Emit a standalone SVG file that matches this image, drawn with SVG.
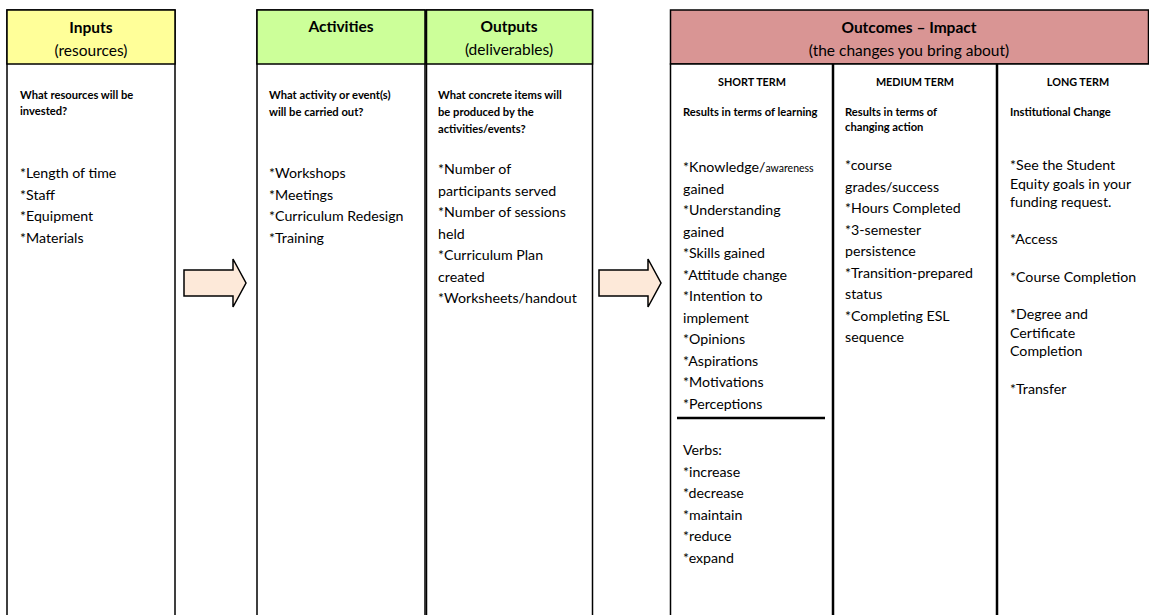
<svg xmlns="http://www.w3.org/2000/svg" width="1149" height="615" viewBox="0 0 1149 615">
<style>
.box{fill:#fff;stroke:#000;stroke-width:1.5}
.hin{fill:#ffff99;stroke:#000;stroke-width:1.5}
.hgr{fill:#ccff99;stroke:#000;stroke-width:1.5}
.hout{fill:#d99594;stroke:#000;stroke-width:1.5}
.t{font-family:Lato,"Liberation Sans",sans-serif;fill:#000}
.title{font-size:15.5px;font-weight:bold;text-anchor:middle}
.sub{font-size:15.5px;text-anchor:middle}
.q{font-size:11.2px;font-weight:bold}
.qc{font-size:10.8px;font-weight:bold;text-anchor:middle}
.li{font-size:14.2px}
.arrow{fill:#fde9d9;stroke:#000;stroke-width:1.5}
</style>
<rect width="1149" height="615" fill="#fff"/>
<g id="inputs">
<rect class="box" x="7" y="10" width="168" height="620"/>
<rect class="hin" x="7" y="10" width="168" height="54"/>
<text class="t title" x="91" y="33">Inputs</text>
<text class="t sub" x="91" y="56">(resources)</text>
<text class="t q" x="20" y="99">What resources will be</text>
<text class="t q" x="20" y="115">invested?</text>
<text class="t li" x="20" y="178">*Length of time</text>
<text class="t li" x="20" y="199.5">*Staff</text>
<text class="t li" x="20" y="221">*Equipment</text>
<text class="t li" x="20" y="242.5">*Materials</text>
</g>
<g id="activities">
<rect class="box" x="257" y="10" width="168" height="620"/>
<rect class="hgr" x="257" y="10" width="168" height="54"/>
<text class="t title" x="341" y="32">Activities</text>
<text class="t q" x="269" y="99">What activity or event(s)</text>
<text class="t q" x="269" y="116">will be carried out?</text>
<text class="t li" x="269" y="178">*Workshops</text>
<text class="t li" x="269" y="199.5">*Meetings</text>
<text class="t li" x="269" y="221">*Curriculum Redesign</text>
<text class="t li" x="269" y="242.5">*Training</text>
</g>
<g id="outputs">
<rect class="box" x="426.5" y="10" width="166" height="620"/>
<rect class="hgr" x="426.5" y="10" width="166" height="54"/>
<text class="t title" x="509" y="32">Outputs</text>
<text class="t sub" x="509" y="55">(deliverables)</text>
<text class="t q" x="438" y="99">What concrete items will</text>
<text class="t q" x="438" y="116">be produced by the</text>
<text class="t q" x="438" y="133">activities/events?</text>
<text class="t li" x="438" y="174">*Number of</text>
<text class="t li" x="438" y="195.5">participants served</text>
<text class="t li" x="438" y="217">*Number of sessions</text>
<text class="t li" x="438" y="238.5">held</text>
<text class="t li" x="438" y="260">*Curriculum Plan</text>
<text class="t li" x="438" y="281.5">created</text>
<text class="t li" x="438" y="303">*Worksheets/handout</text>
</g>
<g id="outcomes">
<rect class="hout" x="670.5" y="10" width="478" height="54"/>
<text class="t title" x="909" y="33">Outcomes – Impact</text>
<text class="t sub" x="909" y="56">(the changes you bring about)</text>
</g>
<g id="short-term">
<rect class="box" x="670.5" y="64" width="162" height="566"/>
<text class="t qc" x="752" y="86">SHORT TERM</text>
<text class="t q" x="683" y="116">Results in terms of learning</text>
<text class="t li" x="683" y="172">*Knowledge/<tspan font-size="10.5">awareness</tspan></text>
<text class="t li" x="683" y="193.5">gained</text>
<text class="t li" x="683" y="215">*Understanding</text>
<text class="t li" x="683" y="236.5">gained</text>
<text class="t li" x="683" y="258">*Skills gained</text>
<text class="t li" x="683" y="279.5">*Attitude change</text>
<text class="t li" x="683" y="301">*Intention to</text>
<text class="t li" x="683" y="322.5">implement</text>
<text class="t li" x="683" y="344">*Opinions</text>
<text class="t li" x="683" y="365.5">*Aspirations</text>
<text class="t li" x="683" y="387">*Motivations</text>
<text class="t li" x="683" y="408.5">*Perceptions</text>
<line x1="677" y1="418" x2="825" y2="418" stroke="#000" stroke-width="2.5"/>
<text class="t li" x="683" y="455">Verbs:</text>
<text class="t li" x="683" y="476.5">*increase</text>
<text class="t li" x="683" y="498">*decrease</text>
<text class="t li" x="683" y="519.5">*maintain</text>
<text class="t li" x="683" y="541">*reduce</text>
<text class="t li" x="683" y="562.5">*expand</text>
</g>
<g id="medium-term">
<rect class="box" x="833.5" y="64" width="163" height="566"/>
<text class="t qc" x="915" y="86">MEDIUM TERM</text>
<text class="t q" x="845" y="116">Results in terms of</text>
<text class="t q" x="845" y="131">changing action</text>
<text class="t li" x="845" y="170">*course</text>
<text class="t li" x="845" y="191.5">grades/success</text>
<text class="t li" x="845" y="213">*Hours Completed</text>
<text class="t li" x="845" y="234.5">*3-semester</text>
<text class="t li" x="845" y="256">persistence</text>
<text class="t li" x="845" y="277.5">*Transition-prepared</text>
<text class="t li" x="845" y="299">status</text>
<text class="t li" x="845" y="320.5">*Completing ESL</text>
<text class="t li" x="845" y="342">sequence</text>
</g>
<g id="long-term">
<rect class="box" x="997.5" y="64" width="160" height="566"/>
<text class="t qc" x="1078" y="86">LONG TERM</text>
<text class="t q" x="1010" y="116">Institutional Change</text>
<text class="t li" x="1010" y="170">*See the Student</text>
<text class="t li" x="1010" y="188.5">Equity goals in your</text>
<text class="t li" x="1010" y="207">funding request.</text>
<text class="t li" x="1010" y="244">*Access</text>
<text class="t li" x="1010" y="282">*Course Completion</text>
<text class="t li" x="1010" y="319">*Degree and</text>
<text class="t li" x="1010" y="337.5">Certificate</text>
<text class="t li" x="1010" y="356">Completion</text>
<text class="t li" x="1010" y="394">*Transfer</text>
</g>
<g id="connectors">
<polygon class="arrow" points="184,270 233,270 233,259 246,283 233,307 233,296 184,296"/>
<polygon class="arrow" points="599,270 648,270 648,259 661,283 648,307 648,296 599,296"/>
</g>
</svg>
